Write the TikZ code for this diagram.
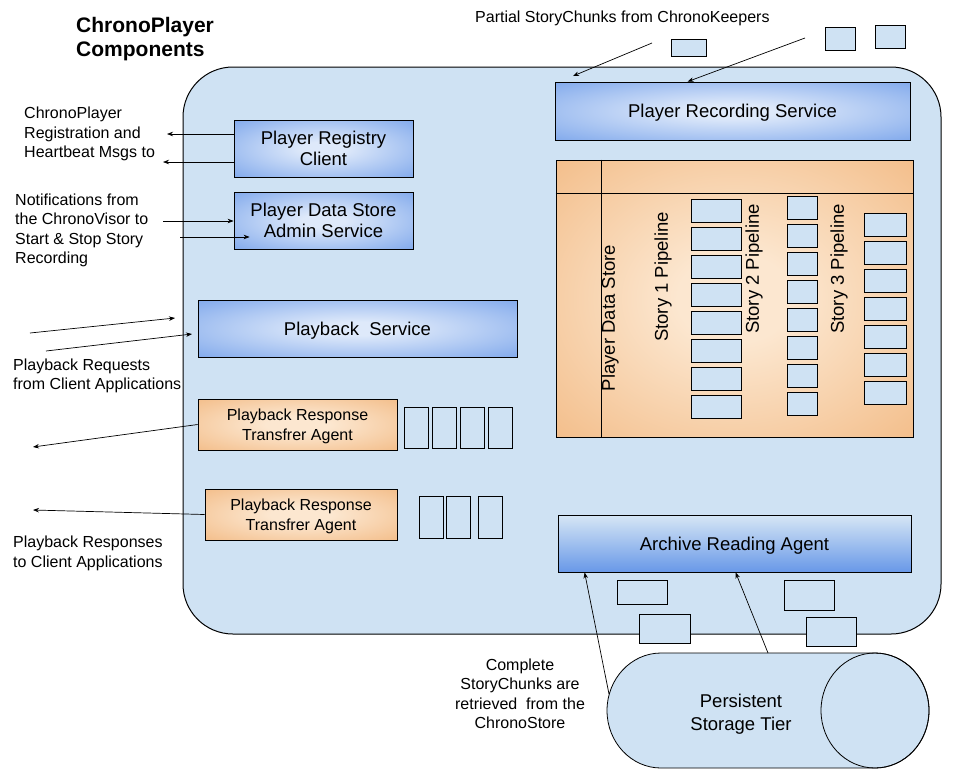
\documentclass[tikz,border=0pt]{standalone}
\usepackage{fontspec}
\setmainfont{Liberation Sans}
\usetikzlibrary{arrows.meta, calc, positioning}
\definecolor{paneblue}{RGB}{207,226,243}
\definecolor{deepblue}{RGB}{104,152,232}
\definecolor{paleblue}{RGB}{222,233,250}
\definecolor{deeporange}{RGB}{238,166,98}
\definecolor{paleorange}{RGB}{252,231,208}
\pgfdeclareradialshading{blueglow}{\pgfpoint{0bp}{0bp}}{color(0bp)=(paleblue); color(6bp)=(paleblue); color(44bp)=(deepblue); color(75bp)=(deepblue)}
\pgfdeclareradialshading{orangeglow}{\pgfpoint{0bp}{0bp}}{color(0bp)=(paleorange); color(8bp)=(paleorange); color(52bp)=(deeporange); color(75bp)=(deeporange)}
\tikzset{
  box/.style={draw, line width=0.8pt, align=center, inner sep=0pt, text depth=0pt, font=\fontsize{18.5}{21}\selectfont},
  bluebox/.style={box, shading=blueglow},
  orangebox/.style={box, shading=orangeglow, font=\fontsize{16}{19.5}\selectfont},
  chunk/.style={draw, line width=0.8pt, fill=paneblue, inner sep=0pt},
  note/.style={align=left, inner sep=0pt, font=\fontsize{16}{19.5}\selectfont},
  lane/.style={rotate=90, inner sep=0pt, font=\fontsize{18.5}{21}\selectfont},
  arr/.style={-{Stealth[length=6pt, width=4.5pt]}, line width=0.7pt},
}

\begin{document}
\begin{tikzpicture}[x=1pt, y=-1pt]
\useasboundingbox (0,0) rectangle (963,772);

% title and outer frame
\node[anchor=west, align=left, inner sep=0pt, font=\fontsize{21}{24}\selectfont\bfseries] (title) at (76,39) {ChronoPlayer\\Components};
\node[draw, line width=1pt, fill=paneblue, rounded corners=50pt, minimum width=758pt, minimum height=567pt] (player) at (562,350.5) {};

% services
\node[bluebox, minimum width=179pt, minimum height=57pt] (reg) at (323.5,148.5) {Player Registry\\Client};
\node[bluebox, minimum width=179pt, minimum height=57pt] (admin) at (323.5,220.5) {Player Data Store\\Admin Service};
\node[bluebox, minimum width=355pt, minimum height=58pt] (rec) at (732.5,111) {Player Recording Service};
\node[bluebox, minimum width=319pt, minimum height=57pt] (playback) at (357.5,328.5) {Playback\ \ Service};
\node[orangebox, minimum width=199pt, minimum height=51pt] (xfer1) at (297.5,424.5) {Playback Response\\Transfrer Agent};
\node[orangebox, minimum width=192pt, minimum height=51pt] (xfer2) at (301,514.5) {Playback Response\\Transfrer Agent};
\node[box, top color=paneblue!85!white, bottom color=deepblue, minimum width=353pt, minimum height=57pt] (archive) at (734.5,543.5) {Archive Reading Agent};

% player data store
\node[draw, line width=0.8pt, shading=orangeglow, minimum width=357pt, minimum height=277pt, inner sep=0pt] (store) at (734.5,298.5) {};
\draw[line width=0.8pt] ([xshift=46pt]store.north west) -- ([xshift=46pt]store.south west);
\draw[line width=0.8pt] ([yshift=-34pt]store.north west) -- ([yshift=-34pt]store.north east);
\node[lane] (lstore) at (610,318) {Player Data Store};
\node[lane] (lane1) at (663,277) {Story 1 Pipeline};
\node[lane] (lane2) at (754,269) {Story 2 Pipeline};
\node[lane] (lane3) at (839,269) {Story 3 Pipeline};
\foreach \i in {0,...,7}
  \node[chunk, minimum width=50pt, minimum height=23pt] (sa\i) at (716,210.5+28*\i) {};
\foreach \i in {0,...,7}
  \node[chunk, minimum width=30pt, minimum height=23pt] (sb\i) at (802,207.5+28*\i) {};
\foreach \i in {0,...,6}
  \node[chunk, minimum width=42pt, minimum height=23pt] (sc\i) at (885,224.5+28*\i) {};

% response slots
\foreach \x [count=\k] in {416,444,472,500}
  \node[chunk, fill=none, minimum width=24pt, minimum height=41pt] (ra\k) at (\x,427.5) {};
\foreach \x [count=\k] in {431,458,490.5}
  \node[chunk, fill=none, minimum width=24pt, minimum height=42pt] (rb\k) at (\x,517) {};

% incoming and archived chunks
\node[chunk, minimum width=35pt, minimum height=17pt] (in1) at (688.5,47.5) {};
\node[chunk, minimum width=30pt, minimum height=23pt] (in2) at (840,38.5) {};
\node[chunk, minimum width=30pt, minimum height=23pt] (in3) at (890,36.5) {};
\node[chunk, minimum width=50pt, minimum height=24pt] (ar1) at (642,592) {};
\node[chunk, minimum width=51pt, minimum height=29pt] (ar2) at (664.5,628.5) {};
\node[chunk, minimum width=50pt, minimum height=30pt] (ar3) at (809,595) {};
\node[chunk, minimum width=50pt, minimum height=29pt] (ar4) at (831,631.5) {};

% persistent storage tier
\draw[line width=0.8pt, fill=paneblue] (661,653) -- (875,653) arc[start angle=-90, end angle=90, x radius=54, y radius=57.5] -- (661,768) arc[start angle=90, end angle=270, x radius=54, y radius=57.5] -- cycle;
\draw[line width=0.8pt] (875,710.5) ellipse[x radius=54, y radius=57.5];
\node[align=center, inner sep=0pt, font=\fontsize{18.5}{23}\selectfont] (tier) at (741,714) {Persistent\\Storage Tier};

% notes
\node[note, anchor=west] (keepnote) at (475,18) {Partial StoryChunks from ChronoKeepers};
\node[note, anchor=west] (regnote) at (24,134) {ChronoPlayer\\Registration and\\Heartbeat Msgs to};
\node[note, anchor=west] (visornote) at (15,230.5) {Notifications from\\the ChronoVisor to\\Start \& Stop Story\\Recording};
\node[note, anchor=west] (reqnote) at (13,376) {Playback Requests\\from Client Applications};
\node[note, anchor=west] (respnote) at (13,553.5) {Playback Responses\\to Client Applications};
\node[note, align=center] (fetchnote) at (520,694) {Complete\\StoryChunks are\\retrieved\ \ from the\\ChronoStore};

% free ends
\coordinate (regout1) at (167,134);
\coordinate (regout2) at (163,162);
\coordinate (visor1) at (163,221);
\coordinate (visor2) at (180,237);
\coordinate (reqa0) at (30,333);
\coordinate (reqa1) at (175,318);
\coordinate (reqb0) at (46,351);
\coordinate (reqb1) at (192,334);
\coordinate (resp1) at (33,447);
\coordinate (resp2) at (33,510);
\coordinate (keepa0) at (652,43);
\coordinate (keepa1) at (573,76);
\coordinate (keepb0) at (805,38);
\coordinate (tiera) at (609,694);
\coordinate (tierb) at (768,653);

% connectors
\draw[arr] (regout1 -| reg.west) -- (regout1);
\draw[arr] (regout2 -| reg.west) -- (regout2);
\draw[arr] (visor1) -- (visor1 -| admin.west);
\draw[arr] (visor2) -- ([xshift=16pt]visor2 -| admin.west);
\foreach \from/\to in {reqa0/reqa1, reqb0/reqb1, keepa0/keepa1}
  \draw[arr] (\from) -- (\to);
\draw[arr] (xfer1.west) -- (resp1);
\draw[arr] (xfer2.west) -- (resp2);
\draw[arr] (keepb0) -- ([xshift=133pt]rec.north west);
\draw[arr] (tiera) -- ([xshift=27pt]archive.south west);
\draw[arr] (tierb) -- ([xshift=178pt]archive.south west);
\end{tikzpicture}
\end{document}
